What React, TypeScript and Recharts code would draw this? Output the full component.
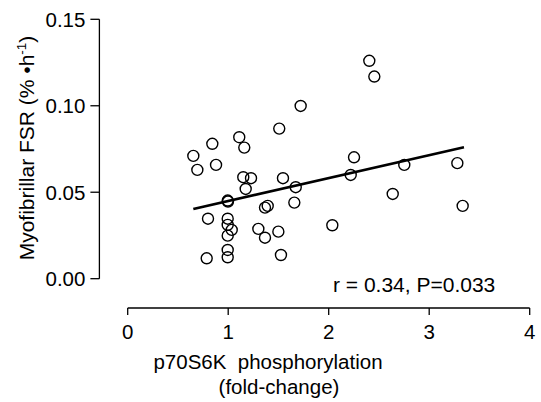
import React from "react";
import { ScatterChart, Scatter, XAxis, YAxis, ReferenceLine } from "recharts";

const FONT = '"Liberation Sans", Arial, Helvetica, sans-serif';

// axis ranges (the axes are drawn offset from the data origin)
const X_MIN = -0.2816;
const X_MAX = 4;
const Y_MIN = -0.01695;
const Y_MAX = 0.15;

const xTicks = [0, 1, 2, 3, 4];
const yTicks = [0, 0.05, 0.1, 0.15];

// p70S6K phosphorylation (fold-change)
const p70Fold = [
  0.653, 0.693, 0.842, 0.879, 0.799, 0.786, 0.995, 0.998, 0.995, 0.995,
  1.035, 0.995, 0.995, 0.995, 1.11, 1.16, 1.15, 1.227, 1.174, 1.3,
  1.366, 1.366, 1.393, 1.508, 1.499, 1.525, 1.545, 1.672, 1.658, 1.721,
  2.036, 2.219, 2.252, 2.404, 2.454, 2.637, 2.752, 3.28, 3.333,
];

// myofibrillar FSR (%/h)
const fsr = [
  0.071, 0.0629, 0.078, 0.0658, 0.0347, 0.0118, 0.0452, 0.0446, 0.0347, 0.0311,
  0.0282, 0.0249, 0.0166, 0.0124, 0.0818, 0.0758, 0.0587, 0.0581, 0.0519, 0.0288,
  0.0237, 0.0411, 0.0421, 0.0868, 0.0272, 0.0137, 0.0581, 0.0529, 0.044, 0.0999,
  0.0309, 0.06, 0.0702, 0.126, 0.1169, 0.049, 0.0658, 0.0668, 0.0421,
];

// regression line end points
const fitX = [0.653, 3.346];
const fitY = [0.0403, 0.076];

const points = p70Fold.map((x, i) => ({ x, y: fsr[i] }));
const fitSegment = fitX.map((x, i) => ({ x, y: fitY[i] }));

const OpenCircle = (props: any) => (
  <circle cx={props.cx} cy={props.cy} r={5.5} fill="none" stroke="#000" strokeWidth={1.4} />
);

export default function App() {
  const tickStyle = { fontSize: 20.5, fontFamily: FONT, fill: "#000" };
  return (
    <div style={{ position: "absolute", left: 0, top: 0, background: "#fff" }}>
      <ScatterChart
        width={541}
        height={402}
        margin={{ top: 19.3, right: 11.3, bottom: 0, left: 0 }}
      >
        <XAxis
          type="number"
          dataKey="x"
          domain={[X_MIN, X_MAX]}
          ticks={xTicks}
          allowDataOverflow
          axisLine={false}
          tickLine={{ stroke: "#000", strokeWidth: 1.3 }}
          tickSize={7}
          tickMargin={9}
          height={94}
          tick={tickStyle}
        />
        <YAxis
          type="number"
          dataKey="y"
          domain={[Y_MIN, Y_MAX]}
          ticks={yTicks}
          allowDataOverflow
          axisLine={false}
          tickLine={{ stroke: "#000", strokeWidth: 1.3 }}
          tickSize={9}
          tickMargin={5}
          width={99.4}
          tick={tickStyle}
          tickFormatter={(v: number) => v.toFixed(2)}
        />
        <ReferenceLine
          segment={[{ x: 0, y: Y_MIN }, { x: 4, y: Y_MIN }]}
          stroke="#000"
          strokeWidth={1.3}
          ifOverflow="visible"
        />
        <ReferenceLine
          segment={[{ x: X_MIN, y: 0 }, { x: X_MIN, y: 0.15 }]}
          stroke="#000"
          strokeWidth={1.3}
          ifOverflow="visible"
        />
        <ReferenceLine
          segment={fitSegment}
          stroke="#000"
          strokeWidth={2.7}
          ifOverflow="visible"
        />
        <Scatter data={points} shape={OpenCircle} isAnimationActive={false} />
        <text x={333} y={292} fontSize={21} fontFamily={FONT} fill="#000">
          r = 0.34, P=0.033
        </text>
        <text x={268} y={369} textAnchor="middle" fontSize={20.5} fontFamily={FONT} fill="#000" xmlSpace="preserve">
          p70S6K  phosphorylation
        </text>
        <text x={279} y={394} textAnchor="middle" fontSize={20.5} fontFamily={FONT} fill="#000">
          (fold-change)
        </text>
        <text
          transform="translate(34,148) rotate(-90)"
          textAnchor="middle"
          fontSize={21}
          fontFamily={FONT}
          fill="#000"
        >
          Myofibrillar FSR (% •h
          <tspan fontSize={13.5} dy={-8}>-1</tspan>
          <tspan dy={8}>)</tspan>
        </text>
      </ScatterChart>
    </div>
  );
}
